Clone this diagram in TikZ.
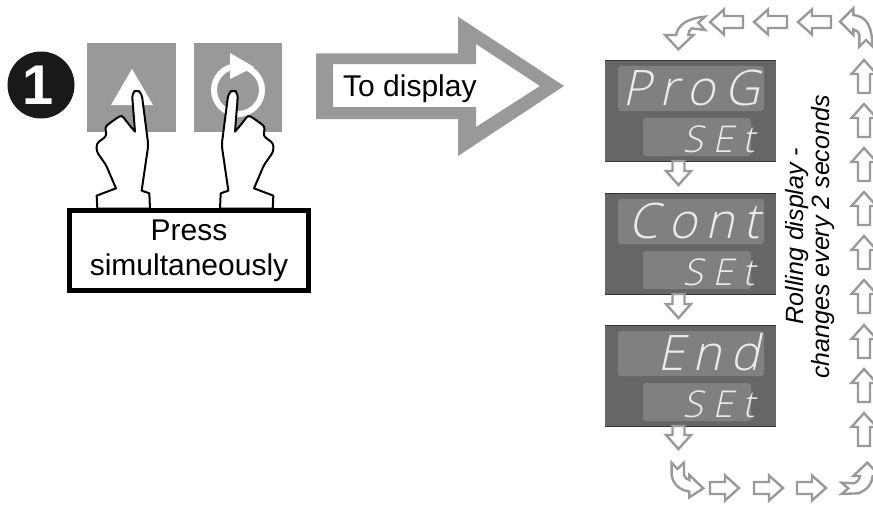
\documentclass[tikz,border=0pt]{standalone}
\usepackage{fontspec}
\setmainfont{Liberation Sans}
\newfontfamily\segbig[FakeSlant=0.22,LetterSpace=18]{Open Sans Light}
\newfontfamily\segsmall[FakeSlant=0.22,LetterSpace=26]{Open Sans Light}
\colorlet{btngray}{black!40}
\colorlet{panelgray}{black!60}
\colorlet{wingray}{black!50}
\colorlet{arrowgray}{black!40}
\tikzset{
  panelbg/.style={fill=panelgray},
  panelwin/.style={fill=wingray,rounded corners=3pt},
  smallarr/.style={draw=arrowgray,fill=white,line width=2.4pt,line join=miter},
  handline/.style={draw=black,fill=white,line width=2pt,line join=round},
  boxlabel/.style={inner sep=0pt,anchor=base,font=\fontsize{30}{35}\selectfont},
  roll/.style={inner sep=0pt,anchor=base,rotate=90,font=\fontsize{25}{28}\selectfont\itshape},
  segA/.style={inner sep=0pt,anchor=base east,text=black!8,font=\fontsize{49}{50}\selectfont\segbig},
  segB/.style={inner sep=0pt,anchor=base east,text=black!8,font=\fontsize{37}{40}\selectfont\segsmall},
}
% x y rotation length
\newcommand\sarrow[4]{%
  \draw[smallarr,shift={(#1,#2)},rotate=#3]
    (0,6) -- ({#4-14},6) -- ({#4-14},12.5) -- (#4,0) -- ({#4-14},-12.5) -- ({#4-14},-6) -- (0,-6) -- cycle;}
% one hand, in coordinates of the 3x grid
\newcommand\handshape{%
  \draw[handline] (292,536) -- (290,497) -- (348,475)
   [rounded corners=3pt] -- (318,405) -- (290,365) -- (290,340) -- (320,318) -- (315,290) -- (345,268) -- (365,255) -- (388,285) [sharp corners] -- (405,305)
   [rounded corners=4pt] -- (396,190) -- (410,178) -- (425,190) -- (445,345) [sharp corners] -- (425,482)
   -- (448,490) -- (450,536) -- cycle;}
\newcommand\displaypanel[1]{%
  \fill[panelbg] (605,#1) rectangle (776,{#1+101});
  \draw[black!80,line width=1pt] (605,#1) -- (776,#1);
  \draw[black!80,line width=.7pt] (605,{#1+101}) -- (776,{#1+101});
  \fill[panelwin] (618,{#1+6}) rectangle (764,{#1+51});
  \fill[panelwin] (643,{#1+58}) rectangle (751,{#1+96});
}
\begin{document}
\begin{tikzpicture}[x=1pt,y=-1pt]
\useasboundingbox (0,0) rectangle (873,504);
\begin{scope}
\clip (0,0) rectangle (873,504);
% step number
\fill[black!90] (41,85) circle (33.5);
\node[inner sep=0pt,anchor=base,text=white,font=\fontsize{56}{56}\selectfont\bfseries] (num) at (38,104) {1};
% buttons
\fill[btngray] (87,43) rectangle (176,132);
\fill[btngray] (194,43) rectangle (282,132);
\fill[white] (132,69) -- (153,105) -- (111,105) -- cycle;
\draw[white,line width=6pt] (238,90) circle (24);
\fill[white] (230,53) -- (254,67) -- (230,79) -- cycle;
% hands
\begin{scope}[shift={(0,30)},x=.3333pt,y=-.3333pt]
  \handshape
\end{scope}
\begin{scope}[shift={(370,30)},x=-.3333pt,y=-.3333pt]
  \handshape
\end{scope}
% press box
\draw[black,fill=white,line width=5pt,line join=miter] (69.5,210.5) rectangle (308,290);
\node[boxlabel] (press) at (189,240) {Press};
\node[boxlabel] (simul) at (189,275) {simultaneously};
% big arrow
\fill[btngray,even odd rule]
  (316,53.3) -- (458,53.3) -- (458,16.7) -- (564,86) -- (458,156) -- (458,119) -- (316,119) -- cycle
  (333,64) -- (476,64) -- (476,44) -- (540,86) -- (476,127) -- (476,107) -- (333,107) -- cycle;
\node[boxlabel,anchor=base west] (todisp) at (343,96) {To display};
% displays
\displaypanel{60}
\displaypanel{193}
\displaypanel{325}
\node[segA] (prog) at (760,105) {ProG};
\node[segB] (set1) at (755,152) {SEt};
\node[segA] (cont) at (760,238) {Cont};
\node[segB] (set2) at (755,285) {SEt};
\node[segA] (endtxt) at (760,370) {End};
\node[segB] (set3) at (755,417) {SEt};
% down arrows
\sarrow{678.5}{161}{-90}{24}
\sarrow{678.5}{294}{-90}{24}
\sarrow{678.5}{426}{-90}{23}
% rolling label
\node[roll] (roll1) at (803,236) {Rolling display -};
\node[roll] (roll2) at (829,237) {changes every 2 seconds};
% up arrows
\foreach \tipy in {60,104,148,192,236,280,325,369,413}
  {\sarrow{864}{\tipy+33}{90}{33}}
% top arrows
\sarrow{743}{22}{180}{33}
\sarrow{787}{22}{180}{33}
\sarrow{831}{22}{180}{33}
% bottom arrows
\sarrow{710}{488}{0}{29}
\sarrow{754}{488}{0}{29}
\sarrow{797}{488}{0}{29}
% corner arrows
\begin{scope}[shift={(650,0)},x=.3333pt,y=-.3333pt]
  \draw[smallarr] (85,148) -- (45,105) -- (78,105) .. controls (85,75) and (110,55) .. (165,50) -- (145,68) -- (165,90) -- (125,85) .. controls (118,90) and (115,97) .. (115,105) -- (130,105) -- cycle;
  \draw[smallarr] (570,65) -- (610,25) -- (610,45) .. controls (650,50) and (665,75) .. (668,140) -- (648,120) -- (628,140) -- (628,105) .. controls (625,95) and (620,90) .. (610,88) -- (610,105) -- cycle;
\end{scope}
\begin{scope}[shift={(590,320)},x=.3333pt,y=-.3333pt]
  \draw[smallarr] (340,505) -- (298,465) -- (298,480) .. controls (290,478) and (284,472) .. (282,465) -- (282,428) -- (262,447) -- (245,428) -- (245,465) .. controls (250,495) and (270,510) .. (298,515) -- (298,532) -- cycle;
  \draw[smallarr] (832,428) -- (790,468) -- (810,468) .. controls (808,480) and (800,488) .. (790,490) -- (755,488) -- (775,505) -- (755,522) -- (805,520) .. controls (830,510) and (845,495) .. (848,468) -- (870,468) -- cycle;
\end{scope}
\end{scope}
\end{tikzpicture}
\end{document}
